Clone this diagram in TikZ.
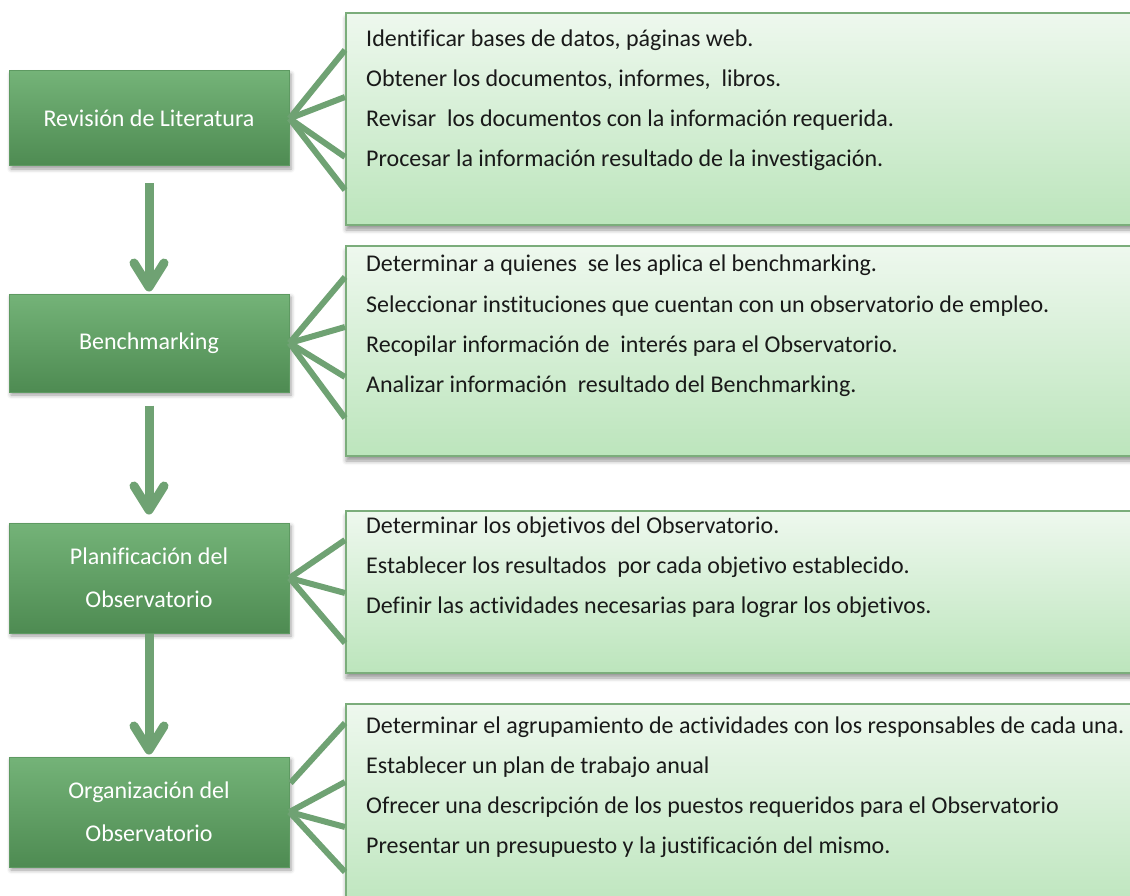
\documentclass[tikz,border=0pt]{standalone}
\usepackage{fontspec}
\setmainfont[Ligatures=NoCommon]{Carlito}
\usetikzlibrary{arrows.meta,calc,positioning,shadows.blur}

\definecolor{stagetop}{HTML}{74B378}
\definecolor{stagebot}{HTML}{4E8B52}
\definecolor{stageline}{HTML}{5E9A62}
\definecolor{detailtop}{HTML}{EEF8EE}
\definecolor{detailbot}{HTML}{BCE5BC}
\definecolor{detailline}{HTML}{7BAD7B}
\definecolor{linkgreen}{HTML}{6FA273}

\begin{document}
\begin{tikzpicture}[x=1pt,y=-1pt,>={Straight Barb[length=24pt,width=30pt,round]}]
    \useasboundingbox (0,0) rectangle (1130,896);
    \tikzstyle{stage}=[draw=stageline, line width=1pt, top color=stagetop, bottom color=stagebot,
        minimum width=280pt, text=white, align=center, font=\fontsize{24}{43}\selectfont,
        blur shadow={shadow xshift=2pt, shadow yshift=-3pt, shadow blur radius=4pt}]
    \tikzstyle{detail}=[draw=detailline, line width=2pt, top color=detailtop, bottom color=detailbot,
        anchor=north west, minimum width=820pt,
        blur shadow={shadow xshift=0pt, shadow yshift=-5pt, shadow blur radius=4pt}]
    \tikzstyle{item}=[anchor=base west, inner sep=0pt, text=black!90, font=\fontsize{24}{28}\selectfont]
    \tikzstyle{fan}=[draw=linkgreen, line width=6pt]
    \tikzstyle{flow}=[->, draw=linkgreen, line width=9pt]

    % stages on the left
    \node[stage, minimum height=95pt]  (lit)   at (149,118.5) {Revisión de Literatura};
    \node[stage, minimum height=98pt]  (bench) at (149,343)   {Benchmarking};
    \node[stage, minimum height=110pt] (plan)  at (149,578)   {Planificación del\\Observatorio};
    \node[stage, minimum height=110pt] (org)   at (149,812)   {Organización del\\Observatorio};

    % detail boxes (run past the right edge)
    \node[detail, minimum height=212pt] (d1) at (345,12)  {};
    \node[detail, minimum height=210pt] (d2) at (345,245) {};
    \node[detail, minimum height=162pt] (d3) at (345,510) {};
    \node[detail, minimum height=212pt] (d4) at (345,703) {};

    % detail lines
    \foreach \txt [count=\i] in {{Identificar bases de datos, páginas web.},
        {Obtener los documentos, informes,~ libros.},
        {Revisar~ los documentos con la información requerida.},
        {Procesar la información resultado de la investigación.}}
        \node[item] (d1-\i) at (366,47+40*\i-40) {\txt};
    \foreach \txt [count=\i] in {{Determinar a quienes~ se les aplica el benchmarking.},
        {Seleccionar instituciones que cuentan con un observatorio de empleo.},
        {Recopilar información de~ interés para el Observatorio.},
        {Analizar información~ resultado del Benchmarking.}}
        \node[item] (d2-\i) at (366,272+40*\i-40) {\txt};
    \foreach \txt [count=\i] in {{Determinar los objetivos del Observatorio.},
        {Establecer los resultados~ por cada objetivo establecido.},
        {Definir las actividades necesarias para lograr los objetivos.}}
        \node[item] (d3-\i) at (366,533+40*\i-40) {\txt};
    \foreach \txt [count=\i] in {{Determinar el agrupamiento de actividades con los responsables de cada una.},
        {Establecer un plan de trabajo anual},
        {Ofrecer una descripción de los puestos requeridos para el Observatorio},
        {Presentar un presupuesto y la justificación del mismo.}}
        \node[item] (d4-\i) at (366,733+40*\i-40) {\txt};

    % fan ends on the detail boxes
    \coordinate (e11) at (345,50);  \coordinate (e12) at (345,97);
    \coordinate (e13) at (345,157); \coordinate (e14) at (345,190);
    \coordinate (e21) at (345,277); \coordinate (e22) at (345,327);
    \coordinate (e23) at (345,377); \coordinate (e24) at (345,418);
    \coordinate (e31) at (345,540); \coordinate (e32) at (345,593);
    \coordinate (e33) at (345,643);
    \coordinate (e41) at (345,723); \coordinate (e42) at (345,782);
    \coordinate (e43) at (345,827); \coordinate (e44) at (345,872);
    \coordinate (s41) at ($(org.east)+(1,-29)$);

    \path[fan] (lit.east) edge (e11) edge (e12) edge (e13) edge (e14);
    \path[fan] (bench.east) edge (e21) edge (e22) edge (e23) edge (e24);
    \path[fan] (plan.east) edge (e31) edge (e32) edge (e33);
    \path[fan] (s41) edge (e41);
    \path[fan] (org.east) edge (e42) edge (e43) edge (e44);

    % flow between stages
    \draw[flow, shorten <=17pt, shorten >=2pt] (lit.south) -- (bench.north);
    \draw[flow, shorten <=13pt, shorten >=8pt] (bench.south) -- (plan.north);
    \draw[flow, shorten >=2pt] (plan.south) -- (org.north);
\end{tikzpicture}
\end{document}
